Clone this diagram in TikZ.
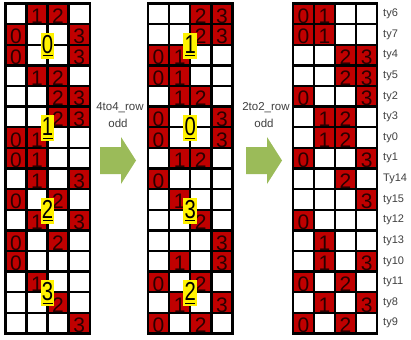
\documentclass[tikz,border=0pt]{standalone}
\usepackage{fontspec}
\setmainfont{Liberation Sans}
\definecolor{cellred}{HTML}{C00000}
\definecolor{arrgreen}{HTML}{9BBB59}
\definecolor{digitcol}{HTML}{2A0000}
\definecolor{txtgray}{HTML}{404040}
\def\cw{21.1}
\def\ch{20.625}
\def\gy{3.5}
\newcommand\drawgridof[3]{% #1 name, #2 x0, #3 list r/c
  \foreach \r/\c in {#3} {
    \fill[cellred] ({#2+\c*\cw},{\gy+\r*\ch}) rectangle ++(\cw,\ch);
  }
  \foreach \i in {0,...,16} {
    \draw[gridline] ({#2},{\gy+\i*\ch}) -- ({#2+4*\cw},{\gy+\i*\ch});
  }
  \foreach \j in {0,...,4} {
    \draw[gridline] ({#2+\j*\cw},{\gy}) -- ({#2+\j*\cw},{\gy+16*\ch});
  }
  \foreach \r/\c in {#3} {
    \node[digitnode] (#1r\r c\c) at ({#2+(\c+0.5)*\cw},{\gy+(\r+1)*\ch-0.8}) {\c};
  }
}
\newcommand\ylabel[4]{% #1 name, #2 x0, #3 line index, #4 text
  \node[ylab] (#1) at ({#2+2*\cw},{\gy+#3*\ch+8.5}) {\scalebox{0.78}[1]{\fontsize{26}{26}\selectfont #4}};
  \draw[line width=1.3pt] (#1.south) ++(-5,-3.2) -- ++(10,0);
}
\begin{document}
\begin{tikzpicture}[x=1pt,y=-1pt,
  gridline/.style={line width=2.4pt,black,line cap=rect},
  digitnode/.style={anchor=base,inner sep=0pt,text=digitcol,font=\fontsize{21}{21}\selectfont},
  ylab/.style={anchor=base,fill=yellow,inner xsep=1.3pt,inner ysep=1.5pt,text height=19pt,text depth=4pt,text=black},
  lbl/.style={text=txtgray,font=\fontsize{11.5}{12}\selectfont,inner sep=0pt},
  tylbl/.style={text=txtgray,font=\fontsize{11}{12}\selectfont,inner sep=0pt,anchor=west}]
\useasboundingbox (0,0) rectangle (411,339);
\fill[white] (0,0) rectangle (411,339);

% grid 1
\drawgridof{a}{5.3}{0/1,0/2,1/0,1/3,2/0,2/3,3/1,3/2,4/2,4/3,5/2,5/3,6/0,6/1,7/0,7/1,8/1,8/3,9/0,9/2,10/1,10/3,11/0,11/2,12/0,13/1,14/2,15/3}
% grid 2
\drawgridof{b}{148}{0/2,0/3,1/2,1/3,2/0,2/1,3/0,3/1,4/1,4/2,5/0,5/3,6/0,6/3,7/1,7/2,8/0,9/1,10/2,11/3,12/1,12/3,13/0,13/2,14/1,14/3,15/0,15/2}
% grid 3
\drawgridof{c}{292.8}{0/0,0/1,1/0,1/1,2/2,2/3,3/2,3/3,4/0,4/3,5/1,5/2,6/1,6/2,7/0,7/3,8/2,9/3,10/0,11/1,12/1,12/3,13/0,13/2,14/1,14/3,15/0,15/2}

% yellow labels
\ylabel{la0}{5.3}{2}{0}
\ylabel{la1}{5.3}{6}{1}
\ylabel{la2}{5.3}{10}{2}
\ylabel{la3}{5.3}{14}{3}
\ylabel{lb1}{148}{2}{1}
\ylabel{lb0}{148}{6}{0}
\ylabel{lb3}{148}{10}{3}
\ylabel{lb2}{148}{14}{2}

% arrows
\fill[arrgreen] (100,147) -- (121,147) -- (121,137) -- (136,160.5) -- (121,184) -- (121,174) -- (100,174) -- cycle;
\fill[arrgreen] (246,147) -- (267,147) -- (267,137) -- (282,160.5) -- (267,184) -- (267,174) -- (246,174) -- cycle;

\node[lbl] (t1a) at (120,108) {4to4\_row};
\node[lbl] (t1b) at (118,123) {odd};
\node[lbl] (t2a) at (266,108) {2to2\_row};
\node[lbl] (t2b) at (264,123) {odd};

% ty labels
\foreach \t [count=\k from 0] in {ty6,ty7,ty4,ty5,ty2,ty3,ty0,ty1,Ty14,ty15,ty12,ty13,ty10,ty11,ty8,ty9} {
  \node[tylbl] (ty\k) at (383,{\gy+(\k+0.5)*\ch}) {\t};
}
\end{tikzpicture}
\end{document}
